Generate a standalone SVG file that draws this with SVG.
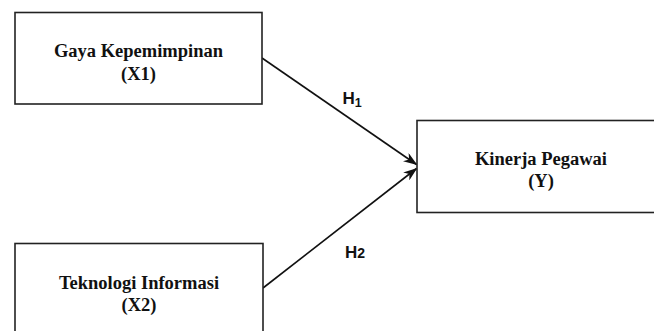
<svg xmlns="http://www.w3.org/2000/svg" width="654" height="331" viewBox="0 0 654 331">
<style>
.box{fill:#fff;stroke:#222;stroke-width:1.6}
.lbl{font-family:"Liberation Serif","Times New Roman",serif;font-weight:bold;font-size:18.5px;fill:#111;text-anchor:middle}
.h{font-family:"Liberation Sans",Arial,sans-serif;font-weight:bold;fill:#111}
.conn{stroke:#111;stroke-width:1.6;fill:none}
</style>
<defs>
<marker id="ah" viewBox="0 0 14 10" refX="13" refY="5" markerWidth="14" markerHeight="10" markerUnits="userSpaceOnUse" orient="auto">
<path d="M0,0 L14,5 L0,10 L4,5 Z" fill="#111"/>
</marker>
</defs>
<rect width="654" height="331" fill="#fff"/>
<g id="connectors">
<line class="conn" x1="262" y1="58" x2="416.5" y2="164.5" marker-end="url(#ah)"/>
<line class="conn" x1="263" y1="288" x2="416.5" y2="168.5" marker-end="url(#ah)"/>
<text class="h" x="342.5" y="104" font-size="17">H<tspan font-size="12.5" dy="2.5">1</tspan></text>
<text class="h" x="345" y="258" font-size="17">H<tspan font-size="14">2</tspan></text>
</g>
<g id="x1">
<rect class="box" x="15" y="12.5" width="247" height="91.5"/>
<text class="lbl" x="138.5" y="57">Gaya Kepemimpinan</text>
<text class="lbl" x="138.5" y="79.5">(X1)</text>
</g>
<g id="x2">
<rect class="box" x="15" y="243.5" width="248" height="100"/>
<text class="lbl" x="139" y="288.5">Teknologi Informasi</text>
<text class="lbl" x="139" y="310.5">(X2)</text>
</g>
<g id="y">
<rect class="box" x="417" y="120.5" width="248" height="92"/>
<text class="lbl" x="541" y="165">Kinerja Pegawai</text>
<text class="lbl" x="541" y="187">(Y)</text>
</g>
</svg>
